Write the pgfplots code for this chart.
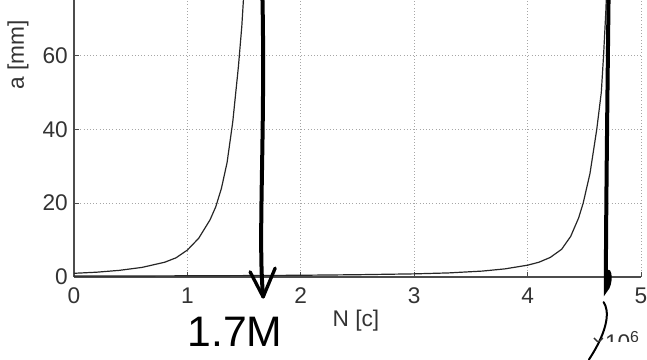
\documentclass[border=0pt]{standalone}
\usepackage{pgfplots}
\pgfplotsset{compat=1.18}
\usepackage{fontspec}
\setmainfont{Liberation Sans}
\pgfplotstableread{
N a
0.00 1.00
0.20 1.30
0.40 1.80
0.60 2.60
0.80 4.00
0.90 5.20
1.00 7.30
1.10 10.5
1.20 15.5
1.25 19.0
1.30 24.0
1.35 31.0
1.40 42.0
1.45 57.0
1.48 68.0
1.50 78.0
}\curveA
\pgfplotstableread{
N a
0.00 0.25
0.50 0.28
1.00 0.32
1.50 0.38
2.00 0.47
2.50 0.62
3.00 0.85
3.30 1.10
3.60 1.60
3.80 2.20
4.00 3.20
4.10 4.00
4.20 5.30
4.30 7.50
4.38 11.0
4.45 16.0
4.49 20.0
4.55 28.0
4.61 40.0
4.65 50.0
4.67 60.0
4.69 72.0
4.70 80.0
}\curveB
\begin{document}
\begin{tikzpicture}
\begin{axis}[
  at={(0,0)}, anchor=south west,
  scale only axis, width=425.25pt, height=207.75pt,
  xmin=0, xmax=5, ymin=0, ymax=75,
  xtick={0,1,2,3,4,5}, ytick={0,20,40,60},
  axis lines=left, axis line style={-, color=black!70, line width=0.8pt},
  tick align=inside, major tick length=4pt, tick style={color=black!70, line width=0.6pt},
  grid=major, grid style={dotted, color=black!35, line width=0.7pt},
  font=\fontsize{17}{19}\selectfont,
  /pgf/number format/assume math mode=true,
  xticklabel style={inner sep=0pt, yshift=-8pt, text=black!80},
  yticklabel style={inner sep=0pt, xshift=-4.5pt, text=black!80},
  scaled x ticks=false,
  clip=false,
]
\addplot[black!85, line width=0.9pt, restrict y to domain=0:80] table[x=N, y=a] {\curveA};
\addplot[black!85, line width=0.9pt, restrict y to domain=0:80] table[x=N, y=a] {\curveB};
% handwritten annotations
\draw[line width=3pt, line cap=round] (axis cs:1.66,78) .. controls (axis cs:1.69,40) and (axis cs:1.62,10) .. (axis cs:1.668,-5.2);
\draw[line width=2.5pt, line join=round, line cap=round] (axis cs:1.553,1.4) -- (axis cs:1.668,-5.4) -- (axis cs:1.774,2.4);
\node[font=\fontsize{32}{34}\selectfont] at (axis cs:1.42,-14.9) {1.7M};
\draw[line width=3pt, line cap=round] (axis cs:4.715,78) .. controls (axis cs:4.70,40) and (axis cs:4.69,10) .. (axis cs:4.69,-3.5)
  .. controls (axis cs:4.74,-2) and (axis cs:4.73,3) .. (axis cs:4.69,1);
\draw[line width=1.5pt, line cap=round] (axis cs:4.67,-6.8) .. controls (axis cs:4.72,-9) and (axis cs:4.72,-14) .. (axis cs:4.54,-22.4);
\end{axis}
\node[text=black!80, rotate=90, font=\fontsize{17}{19}\selectfont] at (-42pt,166.5pt) {a [mm]};
\node[text=black!80, font=\fontsize{17}{19}\selectfont] at (211.5pt,-33pt) {N [c]};
\begin{scope}
\clip (-55.5pt,-48.75pt) rectangle (430pt,0pt);
\node[text=black!80, anchor=base east, inner sep=0pt, font=\fontsize{17}{19}\selectfont] at (424.5pt,-55.5pt) {×10\textsuperscript{6}};
\end{scope}
\pgfresetboundingbox
\path[use as bounding box] (-55.5pt,-62.25pt) rectangle (429.75pt,207.75pt);
\end{tikzpicture}
\end{document}
